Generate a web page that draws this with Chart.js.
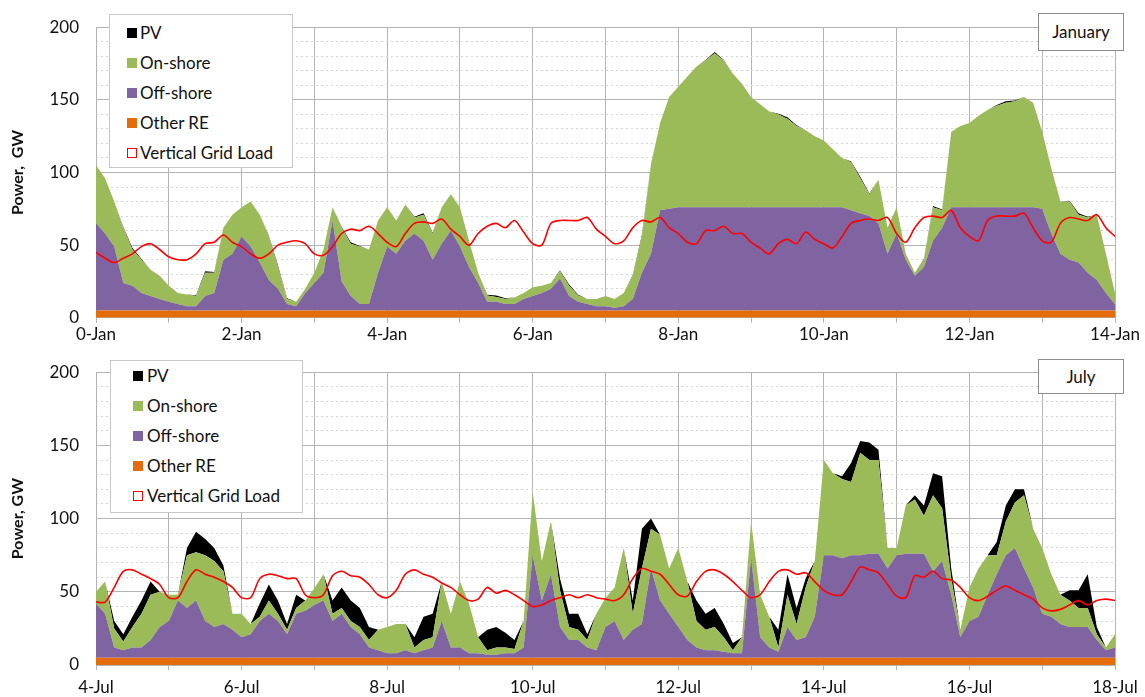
<!DOCTYPE html>
<html>
<head>
<meta charset="utf-8">
<script src="https://cdn.jsdelivr.net/npm/chart.js@4/dist/chart.umd.min.js"></script>
<style>
    body { margin: 0; background: #fff; font-family: Lato, sans-serif; }
    .panel { position: absolute; left: 0; width: 1145px; }
    .legend {
        position: absolute; background: #fff; border: 1px solid #c8c8c8;
        box-sizing: border-box; font-size: 17px; color: #111;
    }
    .legend .row { position: absolute; height: 30px; line-height: 30px; white-space: nowrap; }
    .legend .mk { position: absolute; top: 10px; width: 10px; height: 10px; box-sizing: border-box; }
    .month {
        position: absolute; left: 1038px; width: 86px; background: #fff;
        border: 1px solid #8c8c8c; box-sizing: border-box; text-align: center;
        font-size: 17px; color: #111;
    }
</style>
</head>
<body>
<div class="panel" style="top:0;height:345px"><canvas id="janChart"></canvas></div>
<div class="panel" style="top:345px;height:352px"><canvas id="julChart"></canvas></div>

<div class="legend" id="janLegend" style="left:109px;top:14px;width:184px;height:154px"></div>
<div class="legend" id="julLegend" style="left:110px;top:360px;width:193px;height:153px"></div>
<div class="month" style="top:13px;height:38px;line-height:36px">January</div>
<div class="month" style="top:359px;height:35px;line-height:33px">July</div>

<script>
// one value every 3 hours, 8 per day, 14 days (113 points)
const STEP_DAYS = 3 / 24;

const seriesNames = ['PV', 'On-shore', 'Off-shore', 'Other RE', 'Vertical Grid Load'];
const yTicks = [0, 50, 100, 150, 200];
const janTickLabels = ['0-Jan', '', '2-Jan', '', '4-Jan', '', '6-Jan', '', '8-Jan', '', '10-Jan', '', '12-Jan', '', '14-Jan'];
const julTickLabels = ['4-Jul', '', '6-Jul', '', '8-Jul', '', '10-Jul', '', '12-Jul', '', '14-Jul', '', '16-Jul', '', '18-Jul'];

// ── January (GW) ──────────────────────────────────────
const janOther = [
    5,5,5,5,5,5,5,5, 5,5,5,5,5,5,5,5, 5,5,5,5,5,5,5,5, 5,5,5,5,5,5,5,5,
    5,5,5,5,5,5,5,5, 5,5,5,5,5,5,5,5, 5,5,5,5,5,5,5,5, 5,5,5,5,5,5,5,5,
    5,5,5,5,5,5,5,5, 5,5,5,5,5,5,5,5, 5,5,5,5,5,5,5,5, 5,5,5,5,5,5,5,5,
    5,5,5,5,5,5,5,5, 5,5,5,5,5,5,5,5, 5
];
const janOffshore = [
    60,53,44,19,17,12,10,8,
    6,4.5,3,3,10,12,35,39,
    51,44,33,21,15,4.5,3,12,
    19,26,62,20,10,4.5,4.5,26,
    44,39,48,53,48,35,46,55,
    44,30,19,6,6,4.5,4.5,8,
    10,12,15,22,10,6,4.5,3,
    3,2,3,8,26,39,69,70,
    71,71,71,71,71,71,71,71,
    71,71,71,71,71,71,71,71,
    71,71,71,69,67,65,60,39,
    53,35,24,30,48,57,71,71,
    71,71,71,71,71,71,71,71,
    70,53,39,35,33,26,21,12,
    4.5
];
const janOnshore = [
    40,38,31,38,25,23,18,16,
    11,7.5,8,7,16,14,22,27,
    20,31,33,30,15,3.5,3,3,
    7,16,9,37,36,39.5,37.5,36,
    27,23,25,11,18,18,25,25,
    27,18,7,4.4,3.4,3.5,4.5,4,
    6,5,4,5,7,4.4,3.5,5,
    7,6,9,16,25,61,60,77,
    83,90,97,101,106,101,92,85,
    76,71,66,64,61,56,53,49,
    46,40,34,33,24,15,30,18,
    18,4,2,5,23,12,52,56,
    58,63,67,70,72,73,76,72,
    53,45,36,40,33,38,45,27,
    7.5
];
const janPV = [
    0,0,0,0.5,1,0.5,0,0, 0,0,0,0.5,1,0.5,0,0, 0,0,0,0.5,1,0.5,0,0, 0,0,0,0.5,1,0.5,0,0,
    0,0,0,0.5,1,0.5,0,0, 0,0,0,0.5,1,0.5,0,0, 0,0,0,0.5,1,0.5,0,0, 0,0,0,0.5,1,0.5,0,0,
    0,0,0,0.5,1,0.5,0,0, 0,0,0,0.5,1,0.5,0,0, 0,0,0,0.5,1,0.5,0,0, 0,0,0,0.5,1,0.5,0,0,
    0,0,0,0.5,1,0.5,0,0, 0,0,0,0.5,1,0.5,0,0, 0
];
const janLoad = [
    45,41,38,41,44,49,51,47,
    42,40,40,44,51,52,57,52,
    49,44,41,44,50,52,53,51,
    44,43,49,58,61,60,63,58,
    52,49,58,65,66,65,68,61,
    56,50,58,63,65,62,67,59,
    51,50,65,67,67,67,69,61,
    56,51,53,62,67,66,69,62,
    58,52,51,60,60,63,58,58,
    52,48,44,51,54,51,59,54,
    51,48,56,65,67,68,67,69,
    58,52,62,69,70,69,74,62,
    56,53,67,70,70,70,72,62,
    53,52,65,69,68,67,71,62,
    56
];

// ── July (GW) ─────────────────────────────────────────
const julOther = [
    5,5,5,5,5,5,5,5, 5,5,5,5,5,5,5,5, 5,5,5,5,5,5,5,5, 5,5,5,5,5,5,5,5,
    5,5,5,5,5,5,5,5, 5,5,5,5,5,5,5,5, 5,5,5,5,5,5,5,5, 5,5,5,5,5,5,5,5,
    5,5,5,5,5,5,5,5, 5,5,5,5,5,5,5,5, 5,5,5,5,5,5,5,5, 5,5,5,5,5,5,5,5,
    5,5,5,5,5,5,5,5, 5,5,5,5,5,5,5,5, 5
];
const julOffshore = [
    37,30,7,5,7,7,12,21,
    25,39,34,39,25,21,23,19,
    14,16,25,30,25,16,30,32,
    36,39,25,30,21,16,7,5,
    3,3,5,3,5,7,25,7,
    7,3,3,2,2,3,3,7,
    70,39,57,21,12,12,7,5,
    21,25,12,19,23,61,39,30,
    21,12,7,5,5,4,3,3,
    68,14,7,4,21,12,14,28,
    70,70,68,70,70,71,71,61,
    70,71,71,71,59,66,43,14,
    25,28,43,57,70,75,61,48,
    30,28,23,21,21,21,12,5,
    7
];
const julOnshore = [
    8,22,13,6,14,23,31,24,
    18,4,36,33,45,45,36,11,
    16,7,3,9,5,3,4,7,
    11.5,18,5,4,4,5,5,14,
    18,20,18,4,7,7,27,23,
    45,34,11,3,5,4,3,18,
    43,27,36,25,9,7,5,25,
    20,23,63,11,38,27,45,31,
    54,40,18,14,16,10,2,11,
    25,29,21,3,22,11,34,38,
    65,56,54,50,70,64,64,14,
    5,33,37,26,52,36,11,5,
    23,33,27,13,23,31,50,40,
    45,29,20,18,13,13,4,2,
    9
];
const julPV = [
    0,0,5,5,7,9,9,0,
    0,0,5,14,11,9,4,0,
    0,0,9,11,9,4,9,0,
    0,0,9,14,14,13,9,0,
    0,0,0,7,16,16,0,0,
    0,0,0,14,14,10,6,0,
    0,0,0,8,9,11,4,0,
    0,0,0,9,27,7,0,0,
    0,0,14,11,13,9,5,0,
    0,0,0,12,14,11,6,0,
    0,0,2,13,8,12,7,0,
    0,0,3,7,15,22,7,0,
    0,0,0,9,11,9,4,0,
    0,0,0,7,12,23,5,0,
    0
];
const julLoad = [
    43,43,53,64,65,62,59,55,
    46,46,57,65,62,60,57,53,
    46,46,59,62,61,59,59,48,
    46,48,61,64,61,60,55,48,
    46,51,62,65,62,60,56,53,
    48,44,45,53,49,51,48,44,
    40,41,44,46,48,46,48,46,
    45,44,48,59,66,64,62,55,
    48,47,57,64,65,62,57,51,
    46,48,57,64,65,62,63,57,
    51,48,48,57,67,65,63,55,
    47,46,61,60,64,59,58,53,
    46,44,47,51,54,51,48,45,
    39,37,38,41,44,41,44,45,
    44
];

const COL_PV = '#000000';
const COL_ON = '#9bbb59';
const COL_OFF = '#8064a2';
const COL_OTHER = '#e46c0a';
const COL_LOAD = '#ff0000';

Chart.defaults.font.family = 'Lato, sans-serif';
Chart.defaults.font.size = 17;
Chart.defaults.color = '#111';

const toPoints = values => values.map((v, i) => ({ x: i * STEP_DAYS, y: v }));

function areaSet(label, values, colour, fill) {
    return {
        label, data: toPoints(values), stack: 're',
        backgroundColor: colour, borderColor: colour, borderWidth: 0,
        pointRadius: 0, fill, tension: 0
    };
}

function buildChart(id, d, tickLabels, title, xAxisHeight, xPad) {
    new Chart(document.getElementById(id), {
        type: 'line',
        data: {
            datasets: [
                {
                    label: seriesNames[4], data: toPoints(d.load), stack: 'load',
                    borderColor: COL_LOAD, borderWidth: 1.6, pointRadius: 0, fill: false, tension: 0.3
                },
                areaSet(seriesNames[3], d.other, COL_OTHER, 'origin'),
                areaSet(seriesNames[2], d.offshore, COL_OFF, '-1'),
                areaSet(seriesNames[1], d.onshore, COL_ON, '-1'),
                areaSet(seriesNames[0], d.pv, COL_PV, '-1')
            ]
        },
        options: {
            responsive: true,
            maintainAspectRatio: false,
            animation: false,
            layout: { padding: { left: 0, right: 30, top: 23, bottom: 0 } },
            plugins: { legend: { display: false }, tooltip: { enabled: false } },
            scales: {
                x: {
                    type: 'linear', min: 0, max: 14,
                    grid: { color: '#b4b4b4', tickLength: 5, tickColor: '#b4b4b4' },
                    border: { color: '#b4b4b4' },
                    ticks: {
                        stepSize: 1, autoSkip: false, maxRotation: 0, padding: xPad,
                        callback: v => tickLabels[v] ?? ''
                    },
                    afterFit: s => { s.height = xAxisHeight; }
                },
                yMinor: {
                    position: 'left', min: 0, max: 200, stacked: true,
                    ticks: { display: false, stepSize: 10 },
                    grid: {
                        drawTicks: false,
                        color: c => c.tick.value % 50 === 0 ? 'rgba(0,0,0,0)' : '#d4d4d4'
                    },
                    border: { display: false, dash: [2, 3] },
                    afterFit: s => { s.width = 0; }
                },
                y: {
                    position: 'left', min: 0, max: 200, stacked: true,
                    afterBuildTicks: s => { s.ticks = yTicks.map(v => ({ value: v })); },
                    grid: { color: '#b4b4b4', drawTicks: false },
                    border: { color: '#b4b4b4' },
                    ticks: { padding: 17 },
                    title: {
                        display: true, text: title,
                        font: { weight: 'bold', size: 16 },
                        padding: { top: 8, bottom: 0 }
                    },
                    afterFit: s => { s.width = 96; }
                }
            }
        }
    });
}

buildChart('janChart',
    { pv: janPV, onshore: janOnshore, offshore: janOffshore, other: janOther, load: janLoad },
    janTickLabels, 'Power,  GW', 26, 2);
buildChart('julChart',
    { pv: julPV, onshore: julOnshore, offshore: julOffshore, other: julOther, load: julLoad },
    julTickLabels, 'Power, GW', 32, 7);

// ── legends ───────────────────────────────────────────
function fillLegend(id, markLeft, textLeft, firstTop) {
    const colours = [COL_PV, COL_ON, COL_OFF, COL_OTHER, null];
    document.getElementById(id).innerHTML = seriesNames.map((name, i) => {
        const mk = colours[i]
            ? `background:${colours[i]};`
            : `border:1.5px solid ${COL_LOAD};background:#fff;`;
        return `<div class="row" style="top:${firstTop + i * 30}px;left:0;width:100%">
            <span class="mk" style="left:${markLeft}px;${mk}"></span>
            <span style="position:absolute;left:${textLeft}px">${name}</span>
        </div>`;
    }).join('');
}
fillLegend('janLegend', 17, 30, 3);
fillLegend('julLegend', 22, 36, 0);
</script>
</body>
</html>
